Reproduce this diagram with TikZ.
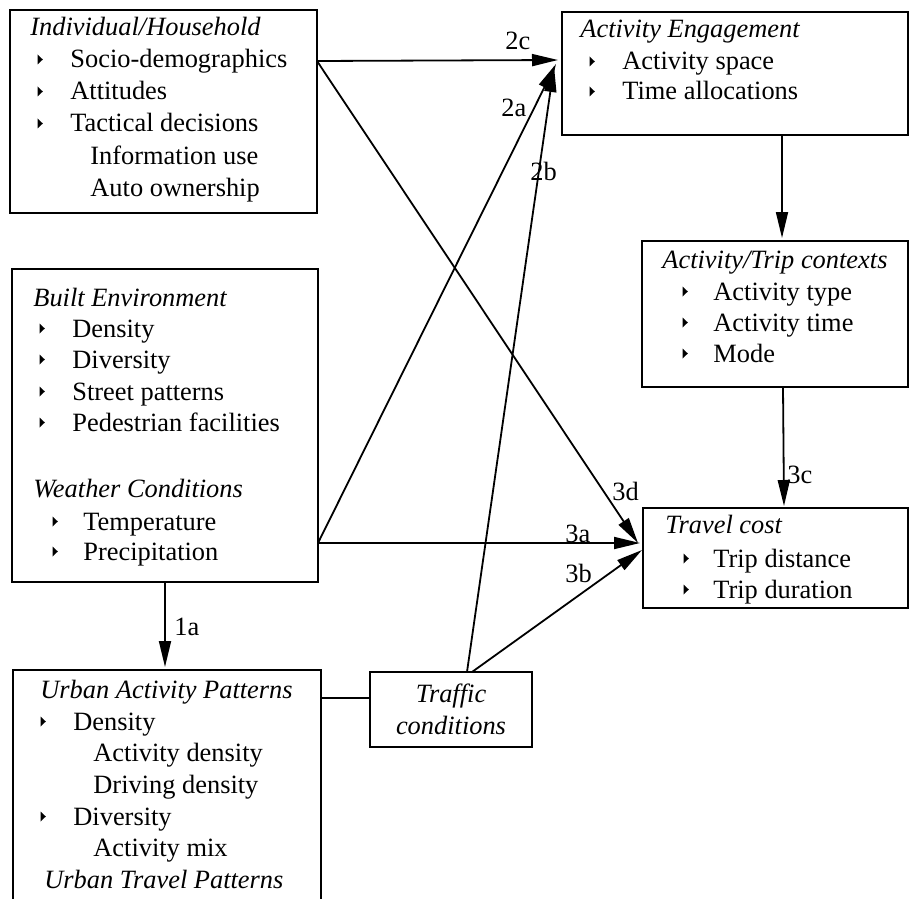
\documentclass[tikz,border=0pt]{standalone}
\usepackage{fontspec}
\setmainfont{Liberation Serif}
\usetikzlibrary{arrows.meta,calc}

\tikzset{
  box/.style={draw,line width=1.1pt,anchor=north west,inner sep=0pt,outer sep=0pt},
  txt/.style={anchor=base west,inner sep=0pt,font=\fontsize{13.2}{16}\selectfont},
  ttl/.style={txt,font=\fontsize{13.2}{16}\selectfont\itshape},
  lbl/.style={txt},
  arr/.style={-{Triangle[length=13pt,width=6pt]},line width=0.9pt},
}
% small bullet triangle, #1 = x centre, #2 = baseline
\newcommand\bul[2]{\fill (#1-2.5,#2-13.5) -- (#1-2.5,#2-3.5) -- (#1+2.8,#2-8.5) -- cycle;}

\begin{document}
\begin{tikzpicture}[x=0.5pt,y=-0.5pt]
  \useasboundingbox (0,0) rectangle (910,899);

  % boxes
  \node[box,minimum width=153.5pt,minimum height=101.5pt] (ind) at (10,10) {};
  \node[box,minimum width=173pt,minimum height=61.5pt] (ae) at (562,12) {};
  \node[box,minimum width=133pt,minimum height=73pt] (atc) at (642,241) {};
  \node[box,minimum width=132.5pt,minimum height=50pt] (tc) at (643,508) {};
  \node[box,minimum width=153pt,minimum height=156.5pt] (be) at (12,269) {};
  \node[box,draw=none,minimum width=154pt,minimum height=114.5pt] (uap) at (13,670) {};
  \draw[line width=1.1pt] (uap.south west) -- (uap.north west) -- (uap.north east) -- (uap.south east);
  \node[box,minimum width=81pt,minimum height=37.5pt,align=center,
        font=\fontsize{13.2}{16}\selectfont\itshape] (traf) at (370,672) {Traffic\\conditions};

  % Individual/Household
  \node[ttl] (ind-h) at (30,36) {Individual/Household};
  \foreach \yy/\w [count=\i] in {68/Socio-demographics,100/Attitudes,132/Tactical decisions}{
    \bul{40}{\yy}
    \node[txt] (ind-\i) at (70,\yy) {\w};
  }
  \node[txt] (ind-4) at (90,164) {Information use};
  \node[txt] (ind-5) at (90,196) {Auto ownership};

  % Activity Engagement
  \node[ttl] (ae-h) at (580,38) {Activity Engagement};
  \foreach \yy/\w [count=\i] in {70/Activity space,100/Time allocations}{
    \bul{592}{\yy}
    \node[txt] (ae-\i) at (622,\yy) {\w};
  }

  % Activity/Trip contexts
  \node[ttl] (atc-h) at (662,268) {Activity/Trip contexts};
  \foreach \yy/\w [count=\i] in {300/Activity type,331/Activity time,362/Mode}{
    \bul{685}{\yy}
    \node[txt] (atc-\i) at (713,\yy) {\w};
  }

  % Travel cost
  \node[ttl] (tc-h) at (665,533) {Travel cost};
  \foreach \yy/\w [count=\i] in {567/Trip distance,598/Trip duration}{
    \bul{686}{\yy}
    \node[txt] (tc-\i) at (713,\yy) {\w};
  }

  % Built Environment / Weather
  \node[ttl] (be-h) at (33,306) {Built Environment};
  \foreach \yy/\w [count=\i] in {337/Density,368/Diversity,400/Street patterns,431/Pedestrian facilities}{
    \bul{42}{\yy}
    \node[txt] (be-\i) at (72,\yy) {\w};
  }
  \node[ttl] (wc-h) at (33,497) {Weather Conditions};
  \foreach \yy/\w [count=\i] in {530/Temperature,560/Precipitation}{
    \bul{55}{\yy}
    \node[txt] (wc-\i) at (83,\yy) {\w};
  }

  % Urban Activity Patterns
  \node[ttl] (uap-h) at (40,698) {Urban Activity Patterns};
  \bul{43}{730}
  \node[txt] (uap-1) at (73,730) {Density};
  \node[txt] (uap-2) at (93,761) {Activity density};
  \node[txt] (uap-3) at (93,793) {Driving density};
  \bul{43}{825}
  \node[txt] (uap-4) at (73,825) {Diversity};
  \node[txt] (uap-5) at (93,856) {Activity mix};
  \node[ttl] (utp-h) at (44,888) {Urban Travel Patterns};

  % connectors
  \draw[arr] ($(ind.north east)+(0,51)$) -- ($(ae.north west)+(-4,48)$);
  \draw[arr] ($(ind.north east)+(0,51)$) -- ($(tc.north west)+(-5,35)$);
  \draw[arr] ($(be.north east)+(0,274)$) -- ($(ae.north west)+(-6,52)$);
  \draw[arr] ($(be.north east)+(0,274)$) -- ($(tc.north west)+(-3,35)$);
  \draw[arr] ($(traf.north west)+(97,0)$) -- ($(ae.north west)+(-8,54)$);
  \draw[arr] ($(traf.north west)+(102,0)$) -- ($(tc.north west)+(-1,42)$);
  \draw[arr] ($(be.south west)+(153,0)$) -- ($(uap.north west)+(152,-3)$);
  \draw[arr] ($(ae.south west)+(220,0)$) -- ($(atc.north west)+(140,-3)$);
  \draw[arr] ($(atc.south west)+(141,0)$) -- ($(tc.north west)+(141,-2)$);
  \draw[line width=0.9pt] ($(uap.north east)+(0,28)$) -- ($(traf.north west)+(0,26)$);

  % labels
  \node[lbl] (l2c) at (505,50) {2c};
  \node[lbl] (l2a) at (501,117) {2a};
  \node[lbl] (l2b) at (530,180) {2b};
  \node[lbl] (l3d) at (612,500) {3d};
  \node[lbl] (l3a) at (565,542) {3a};
  \node[lbl] (l3b) at (565,582) {3b};
  \node[lbl] (l3c) at (787,483) {3c};
  \node[lbl] (l1a) at (174,635) {1a};
\end{tikzpicture}
\end{document}
